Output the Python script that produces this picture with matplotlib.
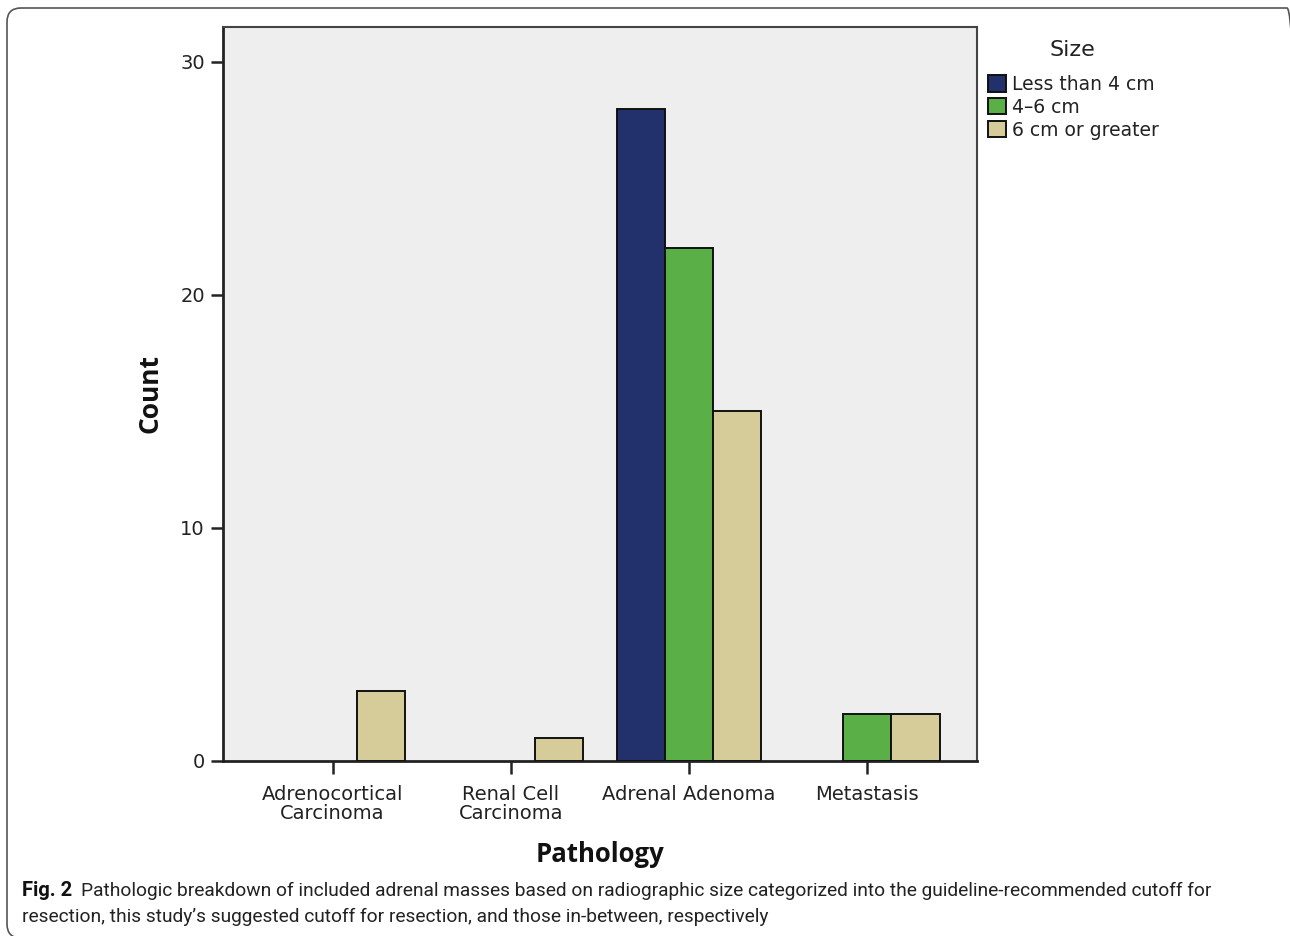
import matplotlib
matplotlib.use("Agg")
import matplotlib.pyplot as plt
import numpy as np
from matplotlib import font_manager
from matplotlib.patches import FancyBboxPatch, Patch

categories = ["Adrenocortical\nCarcinoma", "Renal Cell\nCarcinoma", "Adrenal Adenoma", "Metastasis"]
series_names = ["Less than 4 cm", "4\u20136 cm", "6 cm or greater"]
less_than_4 = [0, 0, 28, 0]
four_to_six = [0, 0, 22, 2]
six_or_more = [3, 1, 15, 2]
y_ticks = [0, 10, 20, 30]
legend_title = "Size"
caption_bold = "Fig. 2"
caption_line1 = "Pathologic breakdown of included adrenal masses based on radiographic size categorized into the guideline-recommended cutoff for"
caption_line2 = "resection, this study\u2019s suggested cutoff for resection, and those in-between, respectively"

colors = ["#22316c", "#5aaf47", "#d6cc99"]

installed = {f.name for f in font_manager.fontManager.ttflist}
cap_font = "Roboto" if "Roboto" in installed else "Liberation Sans"
chart_font = "DejaVu Sans"
label_font = "Open Sans" if "Open Sans" in installed else "DejaVu Sans"
plt.rcParams["font.family"] = chart_font

W, H = 1290, 936
fig = plt.figure(figsize=(W / 100, H / 100), dpi=100)
fig.patch.set_facecolor("white")

# outer rounded frame, drawn in pixel units (right and bottom edges fall outside)
frame = FancyBboxPatch((7, -2), 1301 - 7, 928 + 2,
                       boxstyle="round,pad=0,rounding_size=14",
                       transform=None, fill=False,
                       edgecolor="#555555", linewidth=1.2)
fig.patches.append(frame)

ax = fig.add_axes([223 / W, 1 - 761 / H, (977 - 223) / W, (761 - 27) / H])
ax.set_facecolor("#eeeeee")

x = np.arange(len(categories))
w = 0.27
series = [less_than_4, four_to_six, six_or_more]
handles = []
for i, (vals, c, name) in enumerate(zip(series, colors, series_names)):
    b = ax.bar(x + (i - 1) * w, vals, width=w, color=c, edgecolor="#111111",
               linewidth=1.4, label=name, zorder=3)
    for rect, v in zip(b, vals):
        if v == 0:
            rect.set_visible(False)
    handles.append(Patch(facecolor=c, edgecolor="#111111", linewidth=1.4, label=name))

ax.set_xlim(-0.615, 3.615)
ax.set_ylim(0, 31.5)
ax.set_yticks(y_ticks)
ax.set_yticklabels([str(t) for t in y_ticks], fontsize=14, color="#222222")
ax.set_xticks(x)
ax.set_xticklabels(categories, fontsize=14, color="#222222", linespacing=1.0)
ax.tick_params(axis="both", direction="out", length=9, width=1.8, color="#222222")
ax.tick_params(axis="y", pad=4)
ax.tick_params(axis="x", pad=8)

for s in ["left", "bottom"]:
    ax.spines[s].set_linewidth(2.0)
    ax.spines[s].set_color("#222222")
for s in ["top", "right"]:
    ax.spines[s].set_linewidth(1.5)
    ax.spines[s].set_color("#444444")

fig.text(150 / W, 1 - 393 / H, "Count", rotation=90, ha="center", va="center",
         fontsize=19, fontweight="bold", family=label_font, color="#111111")
fig.text(600 / W, 1 - 855 / H, "Pathology", ha="center", va="center",
         fontsize=18.5, fontweight="bold", family=label_font, color="#111111")

fig.text(1072 / W, 1 - 50 / H, legend_title, ha="center", va="center",
         fontsize=16, color="#222222")
leg = fig.legend(handles=handles, labels=series_names,
                 loc="upper left", bbox_to_anchor=(988 / W, 1 - 75 / H),
                 frameon=False, fontsize=13.5,
                 handlelength=0.95, handleheight=0.95, handletextpad=0.35,
                 labelspacing=0.2, borderaxespad=0, borderpad=0)
for t in leg.get_texts():
    t.set_color("#222222")

# caption
fig.canvas.draw()
r = fig.canvas.get_renderer()
t_bold = fig.text(22 / W, 1 - 891 / H, caption_bold, ha="left", va="center",
                  fontsize=14.5, fontweight="bold", family=cap_font, color="#111111")
bb = t_bold.get_window_extent(renderer=r)
t1 = fig.text((bb.x1 + 9) / W, 1 - 891 / H, caption_line1, ha="left", va="center",
              fontsize=14, family=cap_font, color="#222222")
bb1 = t1.get_window_extent(renderer=r)
target = 1222 - (bb.x1 + 9)
scale = target / bb1.width
t1.set_fontsize(14 * scale)
t2 = fig.text(22 / W, 1 - 917 / H, caption_line2, ha="left", va="center",
              fontsize=14 * scale, family=cap_font, color="#222222")

fig.savefig("out.png", dpi=100)
